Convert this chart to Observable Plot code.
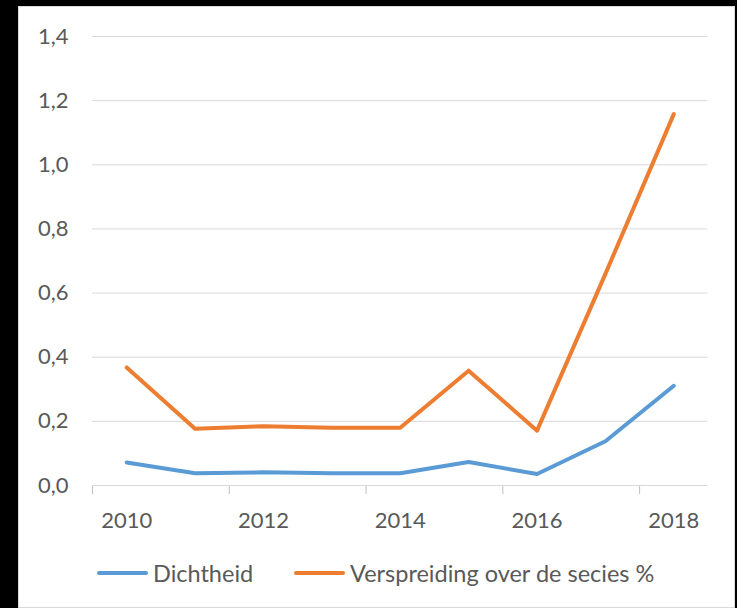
<!DOCTYPE html>
<html>
<head>
<meta charset="utf-8">
<script src="https://cdn.jsdelivr.net/npm/d3@7"></script>
<script src="https://cdn.jsdelivr.net/npm/@observablehq/plot@0.6"></script>
<style>
  html, body { margin: 0; padding: 0; background: #000; width: 737px; height: 608px; overflow: hidden; }
  #frame { position: absolute; left: 18px; top: 6px; width: 717px; height: 602px; background: #fff; box-sizing: border-box; border: 1px solid #d9d9d9; }
  #chart { position: absolute; left: 0; top: 0; }
  #legend { position: absolute; left: 0; top: 557px; width: 737px; height: 32px; font-family: Lato, "Open Sans", sans-serif; font-size: 23.5px; color: #595959; }
  .item { position: absolute; top: 0; display: flex; align-items: center; height: 32px; white-space: nowrap; }
  .swatch { width: 51px; height: 4px; border-radius: 2px; margin-right: 5px; }
</style>
</head>
<body>
<div id="frame"></div>
<div id="chart"></div>
<div id="legend"></div>
<script>
const years = [2010, 2011, 2012, 2013, 2014, 2015, 2016, 2017, 2018];
const dichtheid = [0.072, 0.038, 0.041, 0.038, 0.038, 0.073, 0.036, 0.138, 0.311];
const verspreiding = [0.368, 0.177, 0.185, 0.180, 0.180, 0.358, 0.171, 0.660, 1.158];
const seriesNames = ["Dichtheid", "Verspreiding over de secies %"];
const seriesColors = ["#5B9BD5", "#ED7D31"];
const yTicks = [0, 0.2, 0.4, 0.6, 0.8, 1.0, 1.2, 1.4];
const xLabelTicks = [2010, 2012, 2014, 2016, 2018];
const xBoundaryTicks = [2009.5, 2011.5, 2013.5, 2015.5, 2017.5];

const rows = [];
years.forEach((yr, i) => {
  rows.push({year: yr, value: dichtheid[i], series: seriesNames[0]});
  rows.push({year: yr, value: verspreiding[i], series: seriesNames[1]});
});

const fmt = d => d.toFixed(1).replace(".", ",");

const plot = Plot.plot({
  width: 737,
  height: 545,
  marginLeft: 92,
  marginRight: 29.5,
  marginTop: 36,
  marginBottom: 60,
  style: {fontFamily: "Lato, 'Open Sans', sans-serif", fontSize: "22px", color: "#595959", background: "transparent", overflow: "visible"},
  x: {domain: [years[0] - 0.5, years[years.length - 1] + 0.5]},
  y: {domain: [0, 1.4]},
  color: {domain: seriesNames, range: seriesColors},
  marks: [
    Plot.gridY(yTicks.filter(d => d > 0), {stroke: "#d9d9d9", strokeOpacity: 1, strokeWidth: 1}),
    Plot.axisY(yTicks, {tickSize: 0, tickPadding: 24, tickFormat: fmt, label: null, fill: "#595959"}),
    Plot.axisX(xBoundaryTicks, {tickSize: 9, tickFormat: () => "", label: null, stroke: "#bfbfbf"}),
    Plot.axisX(xLabelTicks, {tickSize: 0, tickPadding: 27, tickFormat: d => String(d), label: null, fill: "#595959"}),
    Plot.ruleY([0], {stroke: "#d9d9d9", strokeWidth: 1}),
    Plot.line(rows, {x: "year", y: "value", z: "series", stroke: "series", strokeWidth: 4, strokeLinejoin: "round", strokeLinecap: "round"})
  ]
});
document.getElementById("chart").appendChild(plot);

const legend = document.getElementById("legend");
const lefts = [97, 294];
seriesNames.forEach((name, i) => {
  const item = document.createElement("div");
  item.className = "item";
  item.style.left = lefts[i] + "px";
  const sw = document.createElement("span");
  sw.className = "swatch";
  sw.style.background = seriesColors[i];
  const label = document.createElement("span");
  label.textContent = name;
  item.appendChild(sw);
  item.appendChild(label);
  legend.appendChild(item);
});
</script>
</body>
</html>
